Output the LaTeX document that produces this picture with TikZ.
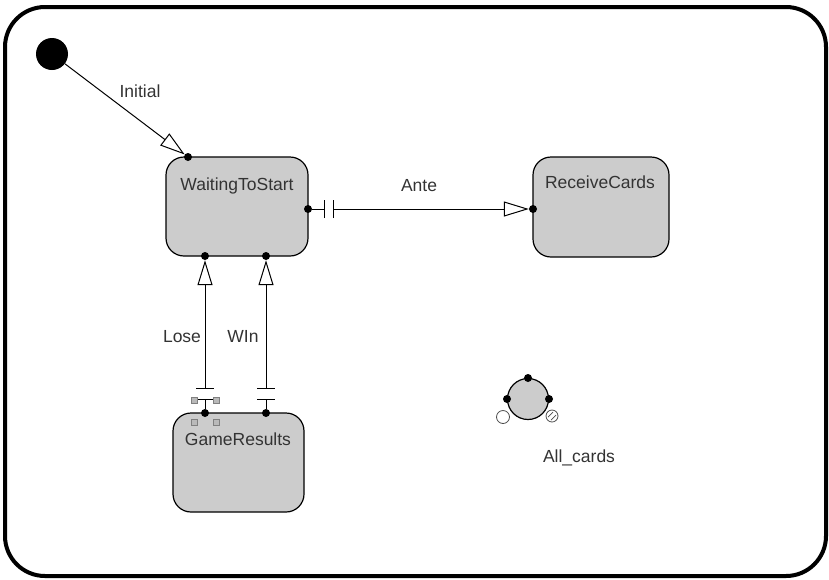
\documentclass[tikz,border=0pt]{standalone}
\usepackage{fontspec}
\setmainfont{Liberation Sans}
\usetikzlibrary{arrows.meta}
\definecolor{statefill}{RGB}{204,204,204}
\definecolor{txt}{RGB}{51,51,51}
\begin{document}
\begin{tikzpicture}[x=1pt,y=-1pt,
 statebox/.style={draw=black,line width=1.2pt,fill=statefill,rounded corners=18pt,inner sep=0},
 lbl/.style={font=\fontsize{17.5}{19}\selectfont,text=txt,anchor=base,inner sep=0},
 port/.style={circle,fill=black,inner sep=0,minimum size=8pt},
 conn/.style={line width=1pt,black},
 opentip/.style={-{Triangle[open,length=25pt,width=15pt,line width=1pt]}},
 handle/.style={draw=gray,fill=gray!55,line width=0.6pt,minimum size=6pt,inner sep=0},
]
\useasboundingbox (0,0) rectangle (829,579);
% outer frame
\draw[line width=4pt,rounded corners=40pt] (5,7) rectangle (826,576);

% states
\node[statebox,minimum width=142pt,minimum height=99pt] (wts) at (237,206.5) {};
\node[statebox,minimum width=136pt,minimum height=100pt] (rc) at (601,207) {};
\node[statebox,minimum width=131pt,minimum height=99pt] (gr) at (238.5,462.5) {};

\node[lbl] (wtsl) at (237,190) {WaitingToStart};
\node[lbl] (rcl) at (600,188) {ReceiveCards};
\node[lbl] (grl) at (238,445) {GameResults};

% initial pseudo-state
\node[circle,fill=black,minimum size=32pt,inner sep=0] (init) at (52,54) {};

% ports
\node[port] (pwt) at (188,157) {};
\node[port] (pwr) at (308,209) {};
\node[port] (pwb1) at (205,256) {};
\node[port] (pwb2) at (266,256) {};
\node[port] (prl) at (533,209) {};
\node[port] (pg1) at (205,413) {};
\node[port] (pg2) at (266,413) {};

% Initial
\draw[conn,opentip] (init) -- (pwt);
\node[lbl] (initl) at (140,97) {Initial};

% Ante
\coordinate (a1) at (324,209);
\coordinate (a2) at (333,209);
\draw[conn] (pwr) -- (a1);
\draw[conn] ([yshift=-9pt]a1) -- ([yshift=9pt]a1);
\draw[conn] ([yshift=-9pt]a2) -- ([yshift=9pt]a2);
\draw[conn,opentip] (a2) -- (prl);
\node[lbl] (antel) at (419,191) {Ante};

% Lose
\coordinate (l1) at (205,388);
\coordinate (l2) at (205,399);
\draw[conn,opentip] (l1) -- (pwb1);
\draw[conn] (pg1) -- (l2);
\draw[conn] ([xshift=-9pt]l1) -- ([xshift=9pt]l1);
\draw[conn] ([xshift=-8pt]l2) -- ([xshift=8pt]l2);
\node[lbl] (losel) at (182,342) {Lose};

% Win
\coordinate (w1) at (266,388);
\coordinate (w2) at (266,399);
\draw[conn,opentip] (w1) -- (pwb2);
\draw[conn] (pg2) -- (w2);
\draw[conn] ([xshift=-9pt]w1) -- ([xshift=9pt]w1);
\draw[conn] ([xshift=-9pt]w2) -- ([xshift=9pt]w2);
\node[lbl] (winl) at (243,342) {WIn};

% selection handles
\node[handle] (h1) at (194,400) {};
\node[handle] (h2) at (216,400) {};
\node[handle] (h3) at (194,422) {};
\node[handle] (h4) at (216,422) {};

% All_cards
\node[circle,draw=black,line width=1.2pt,fill=statefill,minimum size=41pt,inner sep=0] (ac) at (528,399) {};
\node[port] (ac1) at (528,378) {};
\node[port] (ac2) at (507,399) {};
\node[port] (ac3) at (549,399) {};
\node[circle,draw=black!70,line width=0.8pt,fill=white,minimum size=13pt,inner sep=0] (ac4) at (503,417) {};
\node[circle,draw=black!70,line width=0.8pt,fill=white,minimum size=12pt,inner sep=0] (ac5) at (552,416) {};
\draw[black!70,line width=0.7pt] ([shift={(-4pt,-1pt)}]ac5.center) -- ([shift={(1pt,4pt)}]ac5.center);
\draw[black!70,line width=0.7pt] ([shift={(-1pt,-4pt)}]ac5.center) -- ([shift={(4pt,1pt)}]ac5.center);
\node[lbl] (acl) at (579,462) {All\_cards};
\end{tikzpicture}
\end{document}
